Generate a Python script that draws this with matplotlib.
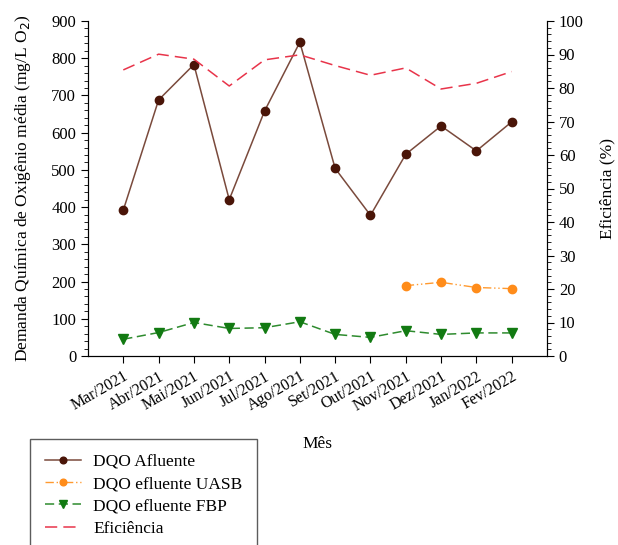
import matplotlib.pyplot as plt
from matplotlib.ticker import MultipleLocator

plt.rcParams['font.family'] = ['Liberation Serif', 'DejaVu Serif']

meses = ["Mar/2021", "Abr/2021", "Mai/2021", "Jun/2021", "Jul/2021", "Ago/2021",
         "Set/2021", "Out/2021", "Nov/2021", "Dez/2021", "Jan/2022", "Fev/2022"]
dqo_afluente = [392, 688, 783, 420, 658, 843, 504, 378, 542, 618, 551, 629]
meses_uasb = ["Nov/2021", "Dez/2021", "Jan/2022", "Fev/2022"]
dqo_uasb = [189, 198, 184, 181]
dqo_fbp = [45, 63, 90, 74, 76, 92, 58, 50, 68, 58, 62, 62]
eficiencia = [85.4, 90.1, 88.6, 80.6, 88.4, 89.9, 86.7, 83.8, 86.0, 79.7, 81.4, 84.9]

x = list(range(1, len(meses) + 1))
x_uasb = [meses.index(m) + 1 for m in meses_uasb]

fig = plt.figure(figsize=(6.18, 5.45), dpi=100)
ax = fig.add_axes([88 / 618, 1 - 356 / 545, (547 - 88) / 618, (356 - 21) / 545])
ax2 = ax.twinx()

l1, = ax.plot(x, dqo_afluente, '-', color='#7a4a3c', lw=1.1, marker='o', ms=6,
              mfc='#4a1508', mec='#4a1508', label='DQO Afluente')
l2, = ax.plot(x_uasb, dqo_uasb, color='#ff9a30', lw=1.0, dashes=(6, 2, 1, 2, 1, 2),
              marker='o', ms=6, mfc='#ff8c1a', mec='#ff8c1a', label='DQO efluente UASB')
l3, = ax.plot(x, dqo_fbp, color='#2e8b2e', lw=1.1, dashes=(6, 3), marker='v', ms=6.5,
              mfc='#127a12', mec='#127a12', label='DQO efluente FBP')
l4, = ax2.plot(x, eficiencia, color='#e8344a', lw=1.1, dashes=(8, 4), label='Eficiência')

ax.set_xlim(0, 13)
ax.set_ylim(0, 900)
ax2.set_ylim(0, 100)
ax.set_xticks(x)
ax.set_xticklabels(meses, rotation=30, ha='right', rotation_mode='anchor')
ax.yaxis.set_major_locator(MultipleLocator(100))
ax.yaxis.set_minor_locator(MultipleLocator(20))
ax2.yaxis.set_major_locator(MultipleLocator(10))
ax2.yaxis.set_minor_locator(MultipleLocator(2))

for a in (ax, ax2):
    a.spines['top'].set_visible(False)
    a.tick_params(axis='both', which='major', direction='out', length=5, labelsize=12)
    a.tick_params(axis='both', which='minor', direction='out', length=3)
ax.tick_params(axis='x', labelsize=11.5, pad=4)

ax.set_ylabel('Demanda Química de Oxigênio média (mg/L O$_2$)', fontsize=12.5)
ax.yaxis.set_label_coords(-0.12, 0.5)
ax2.set_ylabel('Eficiência (%)', fontsize=12.5)
ax2.yaxis.set_label_coords(1.115, 0.5)
ax.set_xlabel('Mês', fontsize=12.5)
ax.xaxis.set_label_coords(0.5, -0.24)

# legend sits under the plot, its lower edge runs past the figure
leg = fig.legend(handles=[l1, l2, l3, l4], loc='upper left',
                 bbox_to_anchor=(30 / 618, 1 - 439 / 545), borderaxespad=0,
                 fontsize=12.5, frameon=True, fancybox=False, edgecolor='#333333',
                 handlelength=2.1, markerscale=0.8, borderpad=0.85,
                 labelspacing=0.35, handletextpad=0.7)
leg.get_frame().set_linewidth(1.0)

fig.savefig('out.png', dpi=100)
